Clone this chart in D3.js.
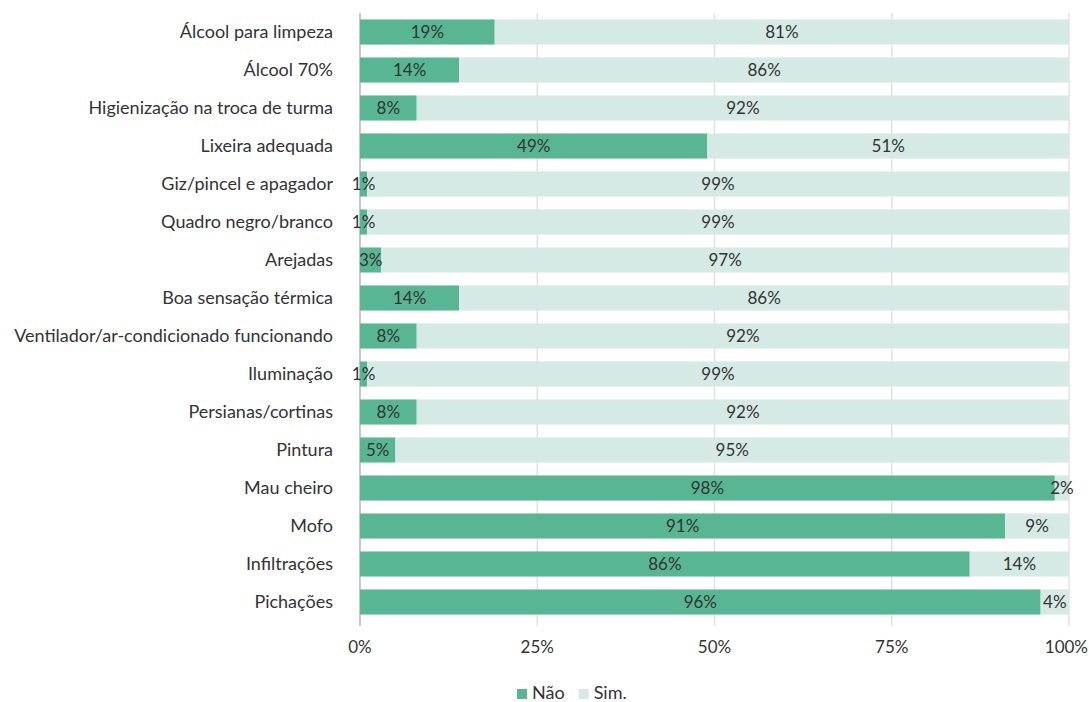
<!DOCTYPE html>
<html>
<head>
<meta charset="utf-8">
<script src="https://cdn.jsdelivr.net/npm/d3@7"></script>
<style>
  html, body { margin: 0; padding: 0; background: #fff; }
  svg text { font-family: Lato, "Open Sans", sans-serif; fill: #333; }
</style>
</head>
<body>
<svg id="chart" width="1089" height="702"></svg>
<script>
const categories = [
  "Álcool para limpeza",
  "Álcool 70%",
  "Higienização na troca de turma",
  "Lixeira adequada",
  "Giz/pincel e apagador",
  "Quadro negro/branco",
  "Arejadas",
  "Boa sensação térmica",
  "Ventilador/ar-condicionado funcionando",
  "Iluminação",
  "Persianas/cortinas",
  "Pintura",
  "Mau cheiro",
  "Mofo",
  "Infiltrações",
  "Pichações"
];
const naoValues = [19, 14, 8, 49, 1, 1, 3, 14, 8, 1, 8, 5, 98, 91, 86, 96];
const simValues = [81, 86, 92, 51, 99, 99, 97, 86, 92, 99, 92, 95, 2, 9, 14, 4];
const seriesNames = ["Não", "Sim."];
const tickValues = [0, 25, 50, 75, 100];

const colors = { "Não": "#58b792", "Sim.": "#d5eae4" };

const svg = d3.select("#chart");
const margin = { left: 360, right: 20, top: 13, bottom: 81 };
const W = 1089, H = 702;

const x = d3.scaleLinear().domain([0, 100]).range([margin.left, W - margin.right]);
const y = d3.scaleBand().domain(categories).range([margin.top, H - margin.bottom]).paddingInner(0.34).paddingOuter(0.17);

const rows = categories.map((c, i) => ({ cat: c, "Não": naoValues[i], "Sim.": simValues[i] }));
const stacked = d3.stack().keys(seriesNames)(rows);

// vertical gridlines with small tick extensions
svg.append("g").selectAll("line").data(tickValues).join("line")
  .attr("x1", d => x(d)).attr("x2", d => x(d))
  .attr("y1", margin.top).attr("y2", H - margin.bottom + 5)
  .attr("stroke", d => d === 0 ? "#c8c8c8" : "#e2e2e2")
  .attr("stroke-width", d => d === 0 ? 2 : 1.5);

// stacked bars
const groups = svg.append("g").selectAll("g").data(stacked).join("g")
  .attr("fill", d => colors[d.key]);
groups.selectAll("rect").data(d => d).join("rect")
  .attr("x", d => x(d[0]))
  .attr("width", d => x(d[1]) - x(d[0]))
  .attr("y", d => y(d.data.cat))
  .attr("height", y.bandwidth());

// value labels centred in each segment
const labels = svg.append("g");
stacked.forEach(s => {
  labels.selectAll(null).data(s).join("text")
    .attr("x", d => (x(d[0]) + x(d[1])) / 2)
    .attr("y", d => y(d.data.cat) + y.bandwidth() / 2)
    .attr("dy", "0.36em")
    .attr("text-anchor", "middle")
    .attr("font-size", 17)
    .text(d => (d[1] - d[0]) + "%");
});

// category labels
svg.append("g").selectAll("text").data(categories).join("text")
  .attr("x", margin.left - 27)
  .attr("y", d => y(d) + y.bandwidth() / 2)
  .attr("dy", "0.36em")
  .attr("text-anchor", "end")
  .attr("font-size", 18)
  .text(d => d);

// x axis tick labels (last one kept inside the right edge)
svg.append("g").selectAll("text").data(tickValues).join("text")
  .attr("x", d => d === 100 ? W - 1 : x(d))
  .attr("y", 647)
  .attr("dy", "0.36em")
  .attr("text-anchor", d => d === 100 ? "end" : "middle")
  .attr("font-size", 17)
  .text(d => d + "%");

// legend
const legend = svg.append("g").attr("transform", "translate(517,693)");
let lx = 0;
seriesNames.forEach(n => {
  const g = legend.append("g").attr("transform", `translate(${lx},0)`);
  g.append("rect").attr("x", 0).attr("y", -4).attr("width", 10).attr("height", 10).attr("fill", colors[n]);
  const t = g.append("text").attr("x", 15).attr("y", 0).attr("dy", "0.36em").attr("font-size", 18).text(n);
  lx += 15 + t.node().getComputedTextLength() + 14;
});
</script>
</body>
</html>
